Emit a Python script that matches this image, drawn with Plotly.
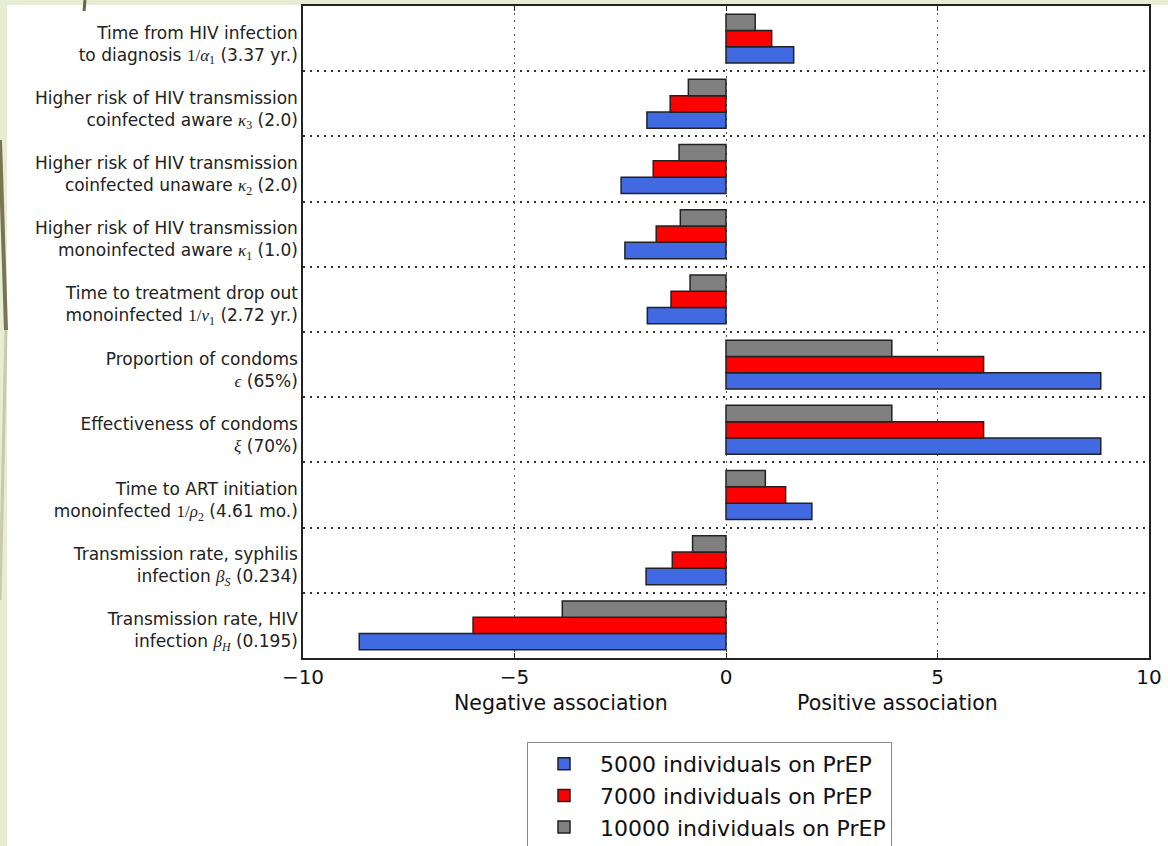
import plotly.graph_objects as go

# ---------------- data (top to bottom as drawn) ----------------
labels = [
    "Time from HIV infection<br>to diagnosis {m}1/<i>α</i><sub>1</sub>{e} (3.37 yr.)",
    "Higher risk of HIV transmission<br>coinfected aware {m}<i>κ</i><sub>3</sub>{e} (2.0)",
    "Higher risk of HIV transmission<br>coinfected unaware {m}<i>κ</i><sub>2</sub>{e} (2.0)",
    "Higher risk of HIV transmission<br>monoinfected aware {m}<i>κ</i><sub>1</sub>{e} (1.0)",
    "Time to treatment drop out<br>monoinfected {m}1/<i>ν</i><sub>1</sub>{e} (2.72 yr.)",
    "Proportion of condoms<br>{m}<i>ϵ</i>{e} (65%)",
    "Effectiveness of condoms<br>{m}<i>ξ</i>{e} (70%)",
    "Time to ART initiation<br>monoinfected {m}1/<i>ρ</i><sub>2</sub>{e} (4.61 mo.)",
    "Transmission rate, syphilis<br>infection {m}<i>β</i><sub><i>S</i></sub>{e} (0.234)",
    "Transmission rate, HIV<br>infection {m}<i>β</i><sub><i>H</i></sub>{e} (0.195)",
]
series_names = ["5000 individuals on PrEP", "7000 individuals on PrEP", "10000 individuals on PrEP"]
prep_5000 = [1.60, -1.87, -2.48, -2.39, -1.86, 8.86, 8.86, 2.03, -1.89, -8.67]
prep_7000 = [1.08, -1.32, -1.72, -1.65, -1.30, 6.09, 6.09, 1.41, -1.27, -5.98]
prep_10000 = [0.69, -0.89, -1.11, -1.08, -0.85, 3.92, 3.92, 0.93, -0.79, -3.87]
x_ticks = [-10, -5, 0, 5, 10]
x_tick_labels = ["−10", "−5", "0", "5", "10"]
assoc_labels = ["Negative association", "Positive association"]
assoc_pos = [-3.9, 4.05]

colors = ["#4169E1", "#FF0000", "#808080"]

MATH_OPEN = '<span style="font-family:\'Liberation Serif\',serif">'
MATH_CLOSE = '</span>'
ticktext = [l.format(m=MATH_OPEN, e=MATH_CLOSE) for l in labels]

n = len(labels)
ypos = [n - 1 - i for i in range(n)]  # top category at highest y

W, H = 1168, 846
L, R, T, B = 303, 19, 6, 188
pw, ph = W - L - R, H - T - B


def px_x(x):
    return (x - L) / pw


def px_y(y):
    return (H - B - y) / ph


fig = go.Figure()
series = [prep_5000, prep_7000, prep_10000]
bar_h = 0.25
for k, (name, vals, col) in enumerate(zip(series_names, series, colors)):
    fig.add_trace(go.Bar(
        x=vals, y=ypos, orientation="h", name=name,
        width=bar_h, offset=-1.5 * bar_h + k * bar_h,
        marker=dict(color=col, line=dict(color="#222222", width=1.5)),
    ))

dot = "1.5px,5.5px"
fig.update_xaxes(
    range=[-10, 10], tickvals=x_ticks, ticktext=x_tick_labels,
    tickfont=dict(family="DejaVu Sans", size=20, color="#111"),
    ticks="inside", ticklen=5, tickcolor="#222", mirror="ticks",
    showline=True, linecolor="#222", linewidth=1.5,
    showgrid=True, gridcolor="#555", gridwidth=1, griddash=dot,
    zeroline=False,
)
fig.update_yaxes(
    range=[-0.5, n - 0.5], tickvals=ypos, ticktext=ticktext,
    tickfont=dict(family="DejaVu Sans", size=17, color="#222"),
    ticklabelshift=5,
    ticks="", showline=True, linecolor="#222", linewidth=1.5, mirror=True,
    showgrid=False, zeroline=False,
    minor=dict(tickvals=[i + 0.5 for i in range(n - 1)], showgrid=True,
               gridcolor="#333", gridwidth=1.5, griddash=dot, ticks=""),
)

for txt, xp in zip(assoc_labels, assoc_pos):
    fig.add_annotation(x=xp, xref="x", y=px_y(703), yref="paper", text=txt,
                       showarrow=False, font=dict(family="DejaVu Sans", size=20.5, color="#111"),
                       xanchor="center", yanchor="middle")

# slide background decoration (left & top strips)
beige = "#E7ECD4"
fig.add_shape(type="rect", xref="paper", yref="paper", x0=px_x(0), x1=px_x(7),
              y0=px_y(H), y1=px_y(0), fillcolor=beige, line_width=0, layer="below")
fig.add_shape(type="rect", xref="paper", yref="paper", x0=px_x(0), x1=px_x(W),
              y0=px_y(5), y1=px_y(0), fillcolor=beige, line_width=0, layer="below")
fig.add_shape(type="line", xref="paper", yref="paper", x0=px_x(85), x1=px_x(84),
              y0=px_y(0), y1=px_y(11), line=dict(color="#6B6547", width=3))
fig.add_shape(type="line", xref="paper", yref="paper", x0=px_x(0), x1=px_x(6),
              y0=px_y(140), y1=px_y(330), line=dict(color="#7A7455", width=4))
fig.add_shape(type="line", xref="paper", yref="paper", x0=px_x(6), x1=px_x(0),
              y0=px_y(330), y1=px_y(600), line=dict(color="#C9C9AE", width=3))

fig.update_layout(
    width=W, height=H, margin=dict(l=L, r=R, t=T, b=B, autoexpand=False),
    paper_bgcolor="white", plot_bgcolor="white",
    barmode="overlay", showlegend=True,
    legend=dict(x=px_x(527), y=px_y(742), xanchor="left", yanchor="top",
                font=dict(family="DejaVu Sans", size=22, color="#111"),
                bordercolor="#8a8a8a", borderwidth=1, bgcolor="white",
                traceorder="normal", itemwidth=62),
    font=dict(family="DejaVu Sans"),
)

fig.write_html("out.html", config={"displayModeBar": False},
               post_script="document.body.style.margin='0';document.body.style.overflow='hidden';")
